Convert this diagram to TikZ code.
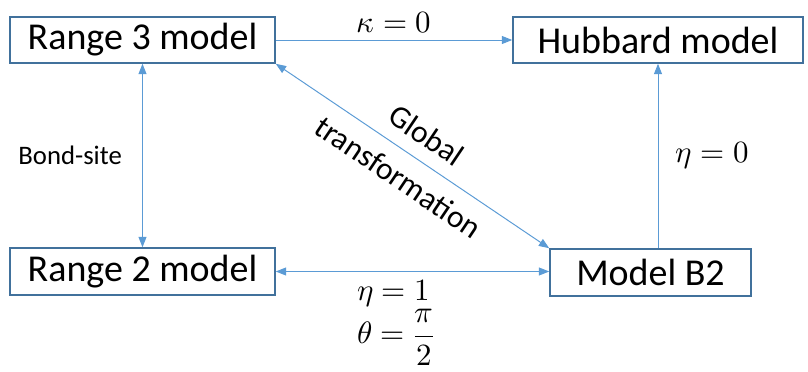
\documentclass[tikz,border=0pt]{standalone}
\usepackage{amsmath}
\usepackage{fontspec}
\usepackage{unicode-math}
\setmainfont{Carlito}
\setmathfont{Latin Modern Math}
\usetikzlibrary{arrows.meta}
\definecolor{boxblue}{RGB}{65,113,156}
\definecolor{lineblue}{RGB}{91,155,213}
\tikzset{
  modelbox/.style={draw=boxblue, line width=1.1pt, inner sep=0pt, font=\fontsize{27}{32}\selectfont},
  link/.style={draw=lineblue, line width=0.7pt, -{Triangle[length=2.6mm,width=2mm]}},
  twolink/.style={link, {Triangle[length=2.6mm,width=2mm]}-{Triangle[length=2.6mm,width=2mm]}},
  linklabel/.style={font=\fontsize{19}{23}\selectfont},
  mathlabel/.style={font=\fontsize{22}{26}\selectfont},
}

\begin{document}
\begin{tikzpicture}[x=0.025cm, y=-0.025cm]
\useasboundingbox (0,0) rectangle (808,371);
\node[modelbox, minimum width=265*0.025cm, minimum height=46*0.025cm] (rthree) at (142.5,40) {Range 3 model};
\node[modelbox, minimum width=290*0.025cm, minimum height=46*0.025cm] (hub) at (658,40) {Hubbard model};
\node[modelbox, minimum width=265*0.025cm, minimum height=47*0.025cm] (rtwo) at (142.5,271.5) {Range 2 model};
\node[modelbox, minimum width=201*0.025cm, minimum height=47*0.025cm] (btwo) at (650.5,272.5) {Model B2};
\draw[link] (rthree.east) -- node[above, mathlabel, yshift=1pt] (kappa) {$\kappa=0$} (hub.west);
\draw[twolink] (rthree.south) -- node[left, linklabel, xshift=-11pt] (bondsite) {Bond-site} (rtwo.north);
\draw[link] (btwo.north -| hub.south) -- node[right, mathlabel, xshift=9pt] (etazero) {$\eta=0$} (hub.south);
\draw[twolink] (rtwo.east) -- node[below, mathlabel, align=left, pos=0.44, yshift=-2pt] (etaone) {$\eta=1$\\[1pt]$\theta=\dfrac{\pi}{2}$} (rtwo.east -| btwo.west);
\draw[twolink] (rthree.south east) -- node[sloped, align=center, font=\fontsize{22.5}{36}\selectfont] (global) {Global\\transformation} (btwo.north west);
\end{tikzpicture}
\end{document}
